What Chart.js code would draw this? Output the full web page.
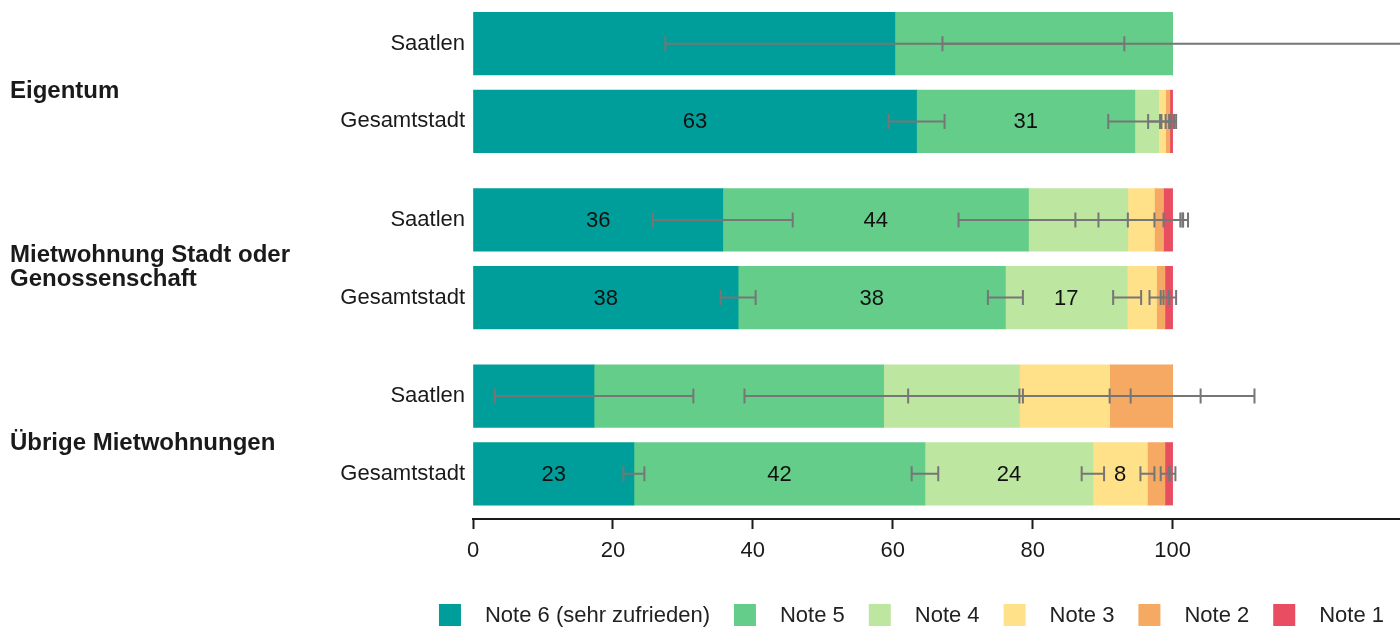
<!DOCTYPE html>
<html lang="de">
<head>
<meta charset="utf-8">
<title>Zufriedenheit mit der Wohnung</title>
<script src="https://cdn.jsdelivr.net/npm/chart.js@4/dist/chart.umd.min.js"></script>
<style>
  html, body { margin: 0; padding: 0; background: #fff; }
  #wrap { width: 1400px; height: 627px; }
</style>
</head>
<body>
<div id="wrap"><canvas id="myChart" width="1400" height="627"></canvas></div>
<script>
// Wohnform (Gruppen) und Vergleichszeilen je Gruppe
const gruppen = ['Eigentum', ['Mietwohnung Stadt oder', 'Genossenschaft'], 'Übrige Mietwohnungen'];
const zeilen = ['Saatlen', 'Gesamtstadt', 'Saatlen', 'Gesamtstadt', 'Saatlen', 'Gesamtstadt'];

const noten = ['Note 6 (sehr zufrieden)', 'Note 5', 'Note 4', 'Note 3', 'Note 2', 'Note 1'];
const farben = ['#009e9a', '#64cd8a', '#bde6a0', '#ffe18a', '#f5a962', '#e94d61'];

// Anteile in % (Reihenfolge wie "zeilen")
const note6 = [60.3, 63.4, 35.7, 37.9, 17.3, 23.0];
const note5 = [39.7, 31.2, 43.7, 38.2, 41.4, 41.6];
const note4 = [0, 3.4, 14.2, 17.4, 19.4, 24.0];
const note3 = [0, 1.0, 3.8, 4.2, 12.9, 7.8];
const note2 = [0, 0.6, 1.3, 1.2, 9.0, 2.5];
const note1 = [0, 0.4, 1.3, 1.1, 0, 1.1];

// halbe Breite Vertrauensintervall (Prozentpunkte)
const ki6 = [32.8, 4.0, 10.0, 2.5, 14.2, 1.5];
const ki5 = [32.9, 3.8, 10.0, 2.5, 19.9, 1.9];
const ki4 = [0, 1.5, 7.5, 2.0, 15.9, 1.6];
const ki3 = [0, 0.8, 4.0, 1.0, 13.0, 1.0];
const ki2 = [0, 0.6, 2.8, 0.6, 11.7, 0.6];
const ki1 = [0, 0.5, 2.2, 0.5, 0, 0.4];

const xTicks = [0, 20, 40, 60, 80, 100];

const werte = [note6, note5, note4, note3, note2, note1];
const fehler = [ki6, ki5, ki4, ki3, ki2, ki1];

// Abstaende der Zeilen auf der y-Achse (in Pixeln)
const ZEILE = 77.7;
const GRUPPE = 176.2;
const OBEN = 43.7;
const FLAECHE_UNTEN = 519;
const posZeile = r => Math.floor(r / 2) * GRUPPE + (r % 2) * ZEILE;
const posGruppe = g => g * GRUPPE + ZEILE / 2;

const TEXT = '#1a1a1a';
Chart.defaults.font.family = "'Liberation Sans', Arial, Helvetica, sans-serif";
Chart.defaults.color = TEXT;

const keinPadding = s => { s.paddingTop = 0; s.paddingBottom = 0; };

// Zahlen in den Balken und Fehlerbalken
const beschriftung = {
    id: 'beschriftung',
    afterDatasetsDraw(chart) {
        const ctx = chart.ctx;
        const x = chart.scales.x;
        const kum = zeilen.map(() => 0);
        ctx.save();
        ctx.font = "22px 'Liberation Sans', Arial, sans-serif";
        ctx.fillStyle = '#111';
        ctx.textAlign = 'center';
        ctx.textBaseline = 'middle';
        const balken = [];
        werte.forEach((reihe, i) => {
            const meta = chart.getDatasetMeta(i);
            reihe.forEach((v, r) => {
                const el = meta.data[r];
                const start = kum[r];
                const ende = start + v;
                kum[r] = ende;
                const e = fehler[i][r];
                // nur zuverlaessige Werte beschriften
                if (v >= 5 && e < 0.45 * v) {
                    ctx.fillText(Math.round(v), (el.x + el.base) / 2, el.y + 1);
                }
                if (v > 0 && e > 0) {
                    balken.push({
                        lo: x.getPixelForValue(Math.max(ende - e, start)),
                        hi: x.getPixelForValue(ende + e),
                        y: el.y
                    });
                }
            });
        });
        ctx.strokeStyle = '#767676';
        ctx.lineWidth = 2;
        balken.forEach(b => {
            ctx.beginPath();
            ctx.moveTo(b.lo, b.y);
            ctx.lineTo(b.hi, b.y);
            ctx.moveTo(b.lo, b.y - 7.5);
            ctx.lineTo(b.lo, b.y + 7.5);
            ctx.moveTo(b.hi, b.y - 7.5);
            ctx.lineTo(b.hi, b.y + 7.5);
            ctx.stroke();
        });
        ctx.restore();
    }
};

// Legende unten rechts
const legende = {
    id: 'legende',
    afterDraw(chart) {
        const ctx = chart.ctx;
        ctx.save();
        ctx.font = "22px 'Liberation Sans', Arial, sans-serif";
        ctx.textBaseline = 'middle';
        ctx.textAlign = 'left';
        const box = 22, abstand = 24;
        const breiten = noten.map(n => ctx.measureText(n).width);
        const gesamt = breiten.reduce((a, b) => a + b, 0) + noten.length * (box + abstand) + (noten.length - 1) * abstand;
        let xPos = 911.5 - gesamt / 2;
        noten.forEach((n, i) => {
            ctx.fillStyle = farben[i];
            ctx.fillRect(xPos, 604, box, box);
            ctx.fillStyle = '#222';
            ctx.fillText(n, xPos + box + abstand, 615.5);
            xPos += box + abstand + breiten[i] + abstand;
        });
        ctx.restore();
    }
};

const ctx = document.getElementById('myChart').getContext('2d');
const myChart = new Chart(ctx, {
    type: 'bar',
    data: {
        datasets: noten.map((label, i) => ({
            label: label,
            data: werte[i].map((v, r) => ({ x: v, y: posZeile(r) })),
            backgroundColor: farben[i],
            borderWidth: 0,
            barThickness: 62.5,
            yAxisID: 'y'
        }))
    },
    options: {
        indexAxis: 'y',
        responsive: false,
        animation: false,
        layout: { padding: { left: 10, right: 0, top: 0, bottom: 62 } },
        plugins: {
            legend: { display: false },
            tooltip: { enabled: false }
        },
        scales: {
            x: {
                type: 'linear',
                stacked: true,
                min: 0,
                max: 132.5,
                afterBuildTicks: s => { s.ticks = xTicks.map(v => ({ value: v })); },
                afterFit: s => { s.height = 46; s.paddingLeft = 0; s.paddingRight = 0; },
                grid: { drawOnChartArea: false, drawTicks: true, tickLength: 10, tickColor: TEXT, tickWidth: 2 },
                border: { display: true, color: TEXT, width: 2 },
                ticks: { font: { size: 22 }, color: TEXT, padding: 9, autoSkip: false, maxRotation: 0 }
            },
            y: {
                type: 'linear',
                position: 'left',
                weight: 0,
                offset: false,
                stacked: true,
                reverse: true,
                min: -OBEN,
                max: FLAECHE_UNTEN - OBEN,
                afterBuildTicks: s => { s.ticks = zeilen.map((z, r) => ({ value: posZeile(r) })); },
                afterFit: s => { s.width = 140; keinPadding(s); },
                grid: { display: false, drawTicks: false, offset: false },
                border: { display: false },
                ticks: {
                    autoSkip: false,
                    padding: 8,
                    font: { size: 22 },
                    color: TEXT,
                    callback: (v, i) => zeilen[i]
                }
            },
            yGruppe: {
                type: 'linear',
                position: 'left',
                weight: 1,
                offset: false,
                reverse: true,
                min: -OBEN,
                max: FLAECHE_UNTEN - OBEN,
                afterBuildTicks: s => { s.ticks = gruppen.map((g, i) => ({ value: posGruppe(i) })); },
                afterFit: s => { s.width = 323; keinPadding(s); },
                grid: { display: false, drawTicks: false, offset: false },
                border: { display: false },
                ticks: {
                    autoSkip: false,
                    padding: 0,
                    crossAlign: 'far',
                    labelOffset: 8.5,
                    font: { size: 24, weight: 'bold', lineHeight: '24px' },
                    color: TEXT,
                    callback: (v, i) => gruppen[i]
                }
            }
        }
    },
    plugins: [beschriftung, legende]
});
</script>
</body>
</html>
